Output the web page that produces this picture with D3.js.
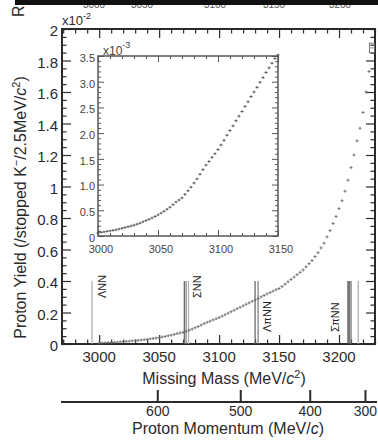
<!DOCTYPE html>
<html>
<head>
<meta charset="utf-8">
<script src="https://cdn.jsdelivr.net/npm/d3@7"></script>
<style>
  html, body { margin: 0; padding: 0; background: #fff; }
  svg { display: block; font-family: "Liberation Sans", Arial, Helvetica, sans-serif; }
</style>
</head>
<body>
<svg id="chart" width="378" height="441"></svg>
<script>
// ---- Data -------------------------------------------------------------
// Missing-mass bin centres (MeV/c^2), 2.5 MeV bins
const binMass = [
  3000, 3002.5, 3005, 3007.5, 3010, 3012.5, 3015, 3017.5, 3020, 3022.5,
  3025, 3027.5, 3030, 3032.5, 3035, 3037.5, 3040, 3042.5, 3045, 3047.5,
  3050, 3052.5, 3055, 3057.5, 3060, 3062.5, 3065, 3067.5, 3070, 3072.5,
  3075, 3077.5, 3080, 3082.5, 3085, 3087.5, 3090, 3092.5, 3095, 3097.5,
  3100, 3102.5, 3105, 3107.5, 3110, 3112.5, 3115, 3117.5, 3120, 3122.5,
  3125, 3127.5, 3130, 3132.5, 3135, 3137.5, 3140, 3142.5, 3145, 3147.5,
  3150, 3152.5, 3155, 3157.5, 3160, 3162.5, 3165, 3167.5, 3170, 3172.5,
  3175, 3177.5, 3180, 3182.5, 3185, 3187.5, 3190, 3192.5, 3195, 3197.5,
  3200, 3202.5, 3205, 3207.5, 3210, 3212.5, 3215, 3217.5, 3220, 3222.5,
  3225, 3227.5
];

// Proton yield per stopped K- per 2.5 MeV, in units of 10^-2
const protonYield = [
  0.006, 0.007, 0.008, 0.009, 0.010, 0.011, 0.012, 0.0135, 0.015, 0.0165,
  0.018, 0.0195, 0.021, 0.023, 0.025, 0.0275, 0.030, 0.0325, 0.035, 0.038,
  0.041, 0.0445, 0.048, 0.052, 0.056, 0.061, 0.066, 0.070, 0.074, 0.081,
  0.088, 0.095, 0.103, 0.111, 0.120, 0.129, 0.138, 0.145, 0.153, 0.160,
  0.168, 0.177, 0.186, 0.196, 0.205, 0.214, 0.224, 0.233, 0.242, 0.252,
  0.261, 0.271, 0.280, 0.289, 0.299, 0.308, 0.318, 0.327, 0.336, 0.345,
  0.352, 0.365, 0.380, 0.395, 0.410, 0.425, 0.440, 0.455, 0.470, 0.490,
  0.510, 0.530, 0.555, 0.580, 0.610, 0.640, 0.680, 0.720, 0.765, 0.810,
  0.860, 0.910, 0.970, 1.040, 1.120, 1.200, 1.290, 1.370, 1.470, 1.600,
  1.730, 1.880
];

// Statistical error of the highest bin (10^-2)
const lastBinError = 0.03;

// Threshold lines (MeV/c^2) and their height (10^-2)
const thresholdHeight = 0.4;
const thresholdNames  = ["ΛNN", "ΣNN", "ΛπNN", "ΣπNN"];
const thresholdMasses = [
  [2994],
  [3071, 3072.5, 3074.5],
  [3130, 3132.5],
  [3207.5, 3208.5, 3210, 3216]
];

// Axis ticks
const massTicks        = [3000, 3050, 3100, 3150, 3200];
const yieldTicks       = [0, 0.2, 0.4, 0.6, 0.8, 1.0, 1.2, 1.4, 1.6, 1.8, 2.0];
const yieldTickLabels  = ["0", "0.2", "0.4", "0.6", "0.8", "1", "1.2", "1.4", "1.6", "1.8", "2"];
const insetMassTicks   = [3000, 3050, 3100, 3150];
const insetYieldTicks  = [0, 0.5, 1.0, 1.5, 2.0, 2.5, 3.0, 3.5];
const insetYieldLabels = ["0", "0.5", "1.0", "1.5", "2.0", "2.5", "3.0", "3.5"];
const momentumTicks    = [600, 500, 400, 300];
const topPanelLabels   = ["3000", "3050", "3100", "3150", "3200"];

// ---- Kinematics: proton momentum -> missing mass (K- stopped on 4He) ---
const M_K = 493.677, M_HE4 = 3727.379, M_P = 938.272;
function missingMass(p) {
  const W = M_K + M_HE4;
  const E = Math.sqrt(M_P * M_P + p * p);
  return Math.sqrt((W - E) * (W - E) - p * p);
}

// ---- Scales -------------------------------------------------------------
const x = d3.scaleLinear().domain([2969, 3230]).range([62, 375]);
const y = d3.scaleLinear().domain([0, 2]).range([344, 29]);
const xi = d3.scaleLinear().domain([3000, 3150]).range([98, 278]);
const yi = d3.scaleLinear().domain([0, 3.5]).range([236, 56]);

const svg = d3.select("#chart");
const ink = "#2a2a2a";

// Cut-off strip belonging to the panel above
const strip = svg.append("g");
strip.selectAll("text.frag").data(topPanelLabels).join("text")
  .attr("x", (d, i) => [94, 142, 215, 274, 340][i])
  .attr("y", 7.5).attr("text-anchor", "middle")
  .attr("font-size", 10).attr("fill", "#555").text(d => d);
strip.append("rect").attr("x", 15).attr("y", 0).attr("width", 363).attr("height", 5).attr("fill", "#111");
strip.append("text").attr("transform", "translate(24,17) rotate(-90)")
  .attr("font-size", 16).attr("fill", ink).text("R");

// ---- Tick helper ----------------------------------------------------------
function tickSet(axisFn, scale, values, size, transform, color, width) {
  svg.append("g").attr("transform", transform)
    .call(axisFn(scale).tickValues(values).tickSize(size).tickFormat(""))
    .call(g => g.select(".domain").remove())
    .selectAll("line").attr("stroke", color).attr("stroke-width", width);
}

// ---- Main frame & ticks -------------------------------------------------
const [x0, x1] = x.range();
const [yb, yt] = y.range();
const massMinor = d3.range(2970, 3231, 10).filter(v => v % 50 !== 0);
const yieldMinor = d3.range(0.05, 2, 0.05).filter(v => Math.abs(v * 5 - Math.round(v * 5)) > 1e-6);

tickSet(d3.axisBottom, x, massTicks, -9, `translate(0,${yb})`, ink, 1.2);
tickSet(d3.axisBottom, x, massMinor, -4.5, `translate(0,${yb})`, ink, 1.2);
tickSet(d3.axisTop, x, massTicks, -9, `translate(0,${yt})`, ink, 1.2);
tickSet(d3.axisTop, x, massMinor, -4.5, `translate(0,${yt})`, ink, 1.2);
tickSet(d3.axisLeft, y, yieldTicks, -9, `translate(${x0},0)`, ink, 1.2);
tickSet(d3.axisLeft, y, yieldMinor, -4.5, `translate(${x0},0)`, ink, 1.2);
tickSet(d3.axisRight, y, yieldTicks, -9, `translate(${x1},0)`, ink, 1.2);
tickSet(d3.axisRight, y, yieldMinor, -4.5, `translate(${x1},0)`, ink, 1.2);

svg.append("rect").attr("x", x0).attr("y", yt).attr("width", x1 - x0).attr("height", yb - yt)
  .attr("fill", "none").attr("stroke", ink).attr("stroke-width", 2);

// Tick labels
svg.append("g").selectAll("text").data(massTicks).join("text")
  .attr("x", d => x(d)).attr("y", yb + 18).attr("text-anchor", "middle")
  .attr("font-size", 15).attr("fill", ink).text(d => d);
svg.append("g").selectAll("text").data(yieldTicks).join("text")
  .attr("x", x0 - 4).attr("y", d => y(d) + 2).attr("dy", "0.35em").attr("text-anchor", "end")
  .attr("font-size", 15).attr("fill", ink).text((d, i) => yieldTickLabels[i]);

// Exponent
const exp2 = svg.append("text").attr("x", x0).attr("y", 25).attr("font-size", 13).attr("fill", ink);
exp2.append("tspan").text("x10");
exp2.append("tspan").attr("dy", -6).attr("font-size", 9).text("-2");

// Axis titles
const yTitle = svg.append("text").attr("transform", `translate(26,${(yb + yt) / 2 + 21}) rotate(-90)`)
  .attr("text-anchor", "middle").attr("font-size", 16).attr("fill", ink);
yTitle.append("tspan").text("Proton Yield (/stopped K");
yTitle.append("tspan").attr("dy", -6).attr("font-size", 11).text("−");
yTitle.append("tspan").attr("dy", 6).text("/2.5MeV/");
yTitle.append("tspan").attr("font-style", "italic").text("c");
yTitle.append("tspan").attr("dy", -6).attr("font-size", 11).text("2");
yTitle.append("tspan").attr("dy", 6).text(")");

const xTitle = svg.append("text").attr("x", 224).attr("y", 384).attr("text-anchor", "middle")
  .attr("font-size", 16).attr("fill", ink);
xTitle.append("tspan").text("Missing Mass (MeV/");
xTitle.append("tspan").attr("font-style", "italic").text("c");
xTitle.append("tspan").attr("dy", -6).attr("font-size", 11).text("2");
xTitle.append("tspan").attr("dy", 6).text(")");

// ---- Threshold lines ----------------------------------------------------
const lineColors = [["#a8a8a8"], ["#606060", "#808080", "#b0b0b0"], ["#606060", "#7a7a7a"], ["#444", "#555", "#666", "#aaa"]];
const th = svg.append("g");
thresholdMasses.forEach((ms, gi) => {
  th.selectAll(null).data(ms).join("line")
    .attr("x1", d => x(d)).attr("x2", d => x(d))
    .attr("y1", y(0)).attr("y2", y(thresholdHeight))
    .attr("stroke", (d, i) => lineColors[gi][i]).attr("stroke-width", 1.2);
});
// label anchors: [mass reference, horizontal offset, vertical offset from line top]
const labelPlace = [[2994, 14, 17], [3074.5, 12, 17], [3132.5, 13, 51], [3207.5, -9, 51]];
thresholdNames.forEach((name, i) => {
  const [m, dx, dy] = labelPlace[i];
  th.append("text")
    .attr("transform", `translate(${x(m) + dx},${y(thresholdHeight) + dy}) rotate(-90)`)
    .attr("font-size", 11).attr("fill", "#222").text(name);
});

// ---- Main data points ----------------------------------------------------
const pts = svg.append("g").attr("stroke", "#6a6a6a").attr("stroke-width", 0.9).attr("fill", "none");
const last = binMass.length - 1;
binMass.forEach((m, i) => {
  const v = protonYield[i];
  pts.append("line").attr("x1", x(m - 1.25)).attr("x2", x(m + 1.25)).attr("y1", y(v)).attr("y2", y(v));
  if (i === last) {
    pts.append("rect").attr("x", x(m - 1.25) - 1).attr("y", y(v + lastBinError))
      .attr("width", x(m + 1.25) - x(m - 1.25) + 2).attr("height", y(v - lastBinError) - y(v + lastBinError));
  } else {
    pts.append("line").attr("x1", x(m)).attr("x2", x(m)).attr("y1", y(v) - 1.5).attr("y2", y(v) + 1.5);
  }
});

// ---- Second axis: proton momentum ---------------------------------------
const pAxisY = 402;
svg.append("line").attr("x1", x0 - 1).attr("x2", 377).attr("y1", pAxisY).attr("y2", pAxisY)
  .attr("stroke", ink).attr("stroke-width", 2);
svg.append("g").selectAll("line").data(momentumTicks).join("line")
  .attr("x1", d => x(missingMass(d))).attr("x2", d => x(missingMass(d)))
  .attr("y1", pAxisY).attr("y2", pAxisY - 12).attr("stroke", ink).attr("stroke-width", 2);
svg.append("g").selectAll("text").data(momentumTicks).join("text")
  .attr("x", d => x(missingMass(d))).attr("y", pAxisY + 14).attr("text-anchor", "middle")
  .attr("font-size", 14).attr("fill", ink).text(d => d);
const pTitle = svg.append("text").attr("x", 228).attr("y", 434).attr("text-anchor", "middle")
  .attr("font-size", 16).attr("fill", ink);
pTitle.append("tspan").text("Proton Momentum (MeV/");
pTitle.append("tspan").attr("font-style", "italic").text("c");
pTitle.append("tspan").text(")");

// ---- Inset ---------------------------------------------------------------
const [ix0, ix1] = xi.range();
const [iyb, iyt] = yi.range();
const inkI = "#555";
svg.append("rect").attr("x", ix0).attr("y", iyt).attr("width", ix1 - ix0).attr("height", iyb - iyt)
  .attr("fill", "#fff");
const iMassMinor = d3.range(3010, 3150, 10).filter(v => v % 50 !== 0);
const iYieldMinor = d3.range(0.1, 3.5, 0.1).filter(v => Math.abs(v * 2 - Math.round(v * 2)) > 1e-6);
tickSet(d3.axisBottom, xi, insetMassTicks, -6, `translate(0,${iyb})`, inkI, 1);
tickSet(d3.axisBottom, xi, iMassMinor, -3, `translate(0,${iyb})`, inkI, 1);
tickSet(d3.axisTop, xi, insetMassTicks, -6, `translate(0,${iyt})`, inkI, 1);
tickSet(d3.axisTop, xi, iMassMinor, -3, `translate(0,${iyt})`, inkI, 1);
tickSet(d3.axisLeft, yi, insetYieldTicks, -6, `translate(${ix0},0)`, inkI, 1);
tickSet(d3.axisLeft, yi, iYieldMinor, -3, `translate(${ix0},0)`, inkI, 1);
tickSet(d3.axisRight, yi, insetYieldTicks, -6, `translate(${ix1},0)`, inkI, 1);
tickSet(d3.axisRight, yi, iYieldMinor, -3, `translate(${ix1},0)`, inkI, 1);
svg.append("rect").attr("x", ix0).attr("y", iyt).attr("width", ix1 - ix0).attr("height", iyb - iyt)
  .attr("fill", "none").attr("stroke", inkI).attr("stroke-width", 1.5);

svg.append("g").selectAll("text").data(insetMassTicks).join("text")
  .attr("x", d => xi(d) + 3).attr("y", iyb + 17).attr("text-anchor", "middle")
  .attr("font-size", 11).attr("fill", "#444").text(d => d);
svg.append("g").selectAll("text").data(insetYieldTicks).join("text")
  .attr("x", ix0 - 3).attr("y", d => yi(d) + 2).attr("dy", "0.35em").attr("text-anchor", "end")
  .attr("font-size", 11).attr("fill", "#444").text((d, i) => insetYieldLabels[i]);
const exp3 = svg.append("text").attr("x", ix0 + 5).attr("y", iyt - 1).attr("font-size", 12).attr("fill", "#444");
exp3.append("tspan").text("x10");
exp3.append("tspan").attr("dy", -7).attr("font-size", 9).text("-3");

// Inset points: same yields shown in units of 10^-3
const ipts = svg.append("g").attr("stroke", "#4a4a4a").attr("stroke-width", 0.9).attr("fill", "none");
binMass.forEach((m, i) => {
  if (m > xi.domain()[1]) return;
  const v = protonYield[i] * 10;
  ipts.append("line").attr("x1", xi(m - 1.25)).attr("x2", xi(m + 1.25)).attr("y1", yi(v)).attr("y2", yi(v));
  ipts.append("line").attr("x1", xi(m)).attr("x2", xi(m)).attr("y1", yi(v) - 1.3).attr("y2", yi(v) + 1.3);
});
</script>
</body>
</html>
